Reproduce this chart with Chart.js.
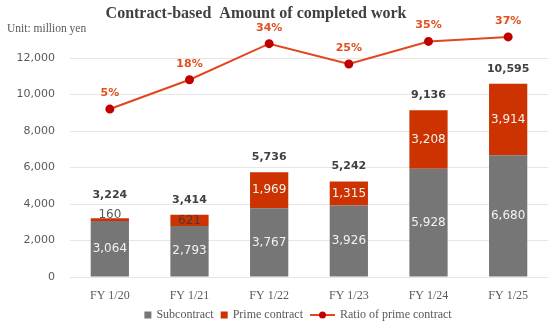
<!DOCTYPE html>
<html>
<head>
<meta charset="utf-8">
<script src="https://cdn.jsdelivr.net/npm/chart.js@4"></script>
<style>
  html, body { margin: 0; padding: 0; background: #fff; }
  #wrap { width: 559px; height: 332px; position: relative; }
</style>
</head>
<body>
<div id="wrap"><canvas id="workChart"></canvas></div>
<script>
// ---- data (million yen) ----
const years       = ['FY 1/20', 'FY 1/21', 'FY 1/22', 'FY 1/23', 'FY 1/24', 'FY 1/25'];
const subcontract = [3064, 2793, 3767, 3926, 5928, 6680];
const prime       = [160, 621, 1969, 1315, 3208, 3914];
const totals      = [3224, 3414, 5736, 5242, 9136, 10595];
const primeRatio  = [5, 18, 34, 25, 35, 37];   // %
const yTicks      = [0, 2000, 4000, 6000, 8000, 10000, 12000];

const GRAY  = '#767676';
const RED   = '#cc3300';
const LINE  = '#e2461c';
const DOT   = '#c00000';
const SERIF = '"Liberation Serif", "Times New Roman", serif';
const SANS  = '"DejaVu Sans", Verdana, sans-serif';

const fmt = v => v.toLocaleString('en-US');

// heading + unit note
const headingPlugin = {
    id: 'heading',
    afterDraw(chart) {
        const ctx = chart.ctx;
        ctx.save();
        ctx.textBaseline = 'middle';
        ctx.fillStyle = '#404040';
        ctx.font = 'bold 16px ' + SERIF;
        ctx.textAlign = 'center';
        ctx.fillText('Contract-based  Amount of completed work', 256, 14);
        ctx.fillStyle = '#595959';
        ctx.font = '11.5px ' + SERIF;
        ctx.textAlign = 'left';
        ctx.fillText('Unit: million yen', 7, 29);
        ctx.restore();
    }
};

// value labels on bars and ratio points
const valueLabels = {
    id: 'valueLabels',
    afterDatasetsDraw(chart) {
        const ctx = chart.ctx;
        const subMeta   = chart.getDatasetMeta(0);
        const primeMeta = chart.getDatasetMeta(1);
        const lineMeta  = chart.getDatasetMeta(2);
        ctx.save();
        ctx.textAlign = 'center';
        ctx.textBaseline = 'middle';

        subMeta.data.forEach((bar, i) => {
            const p = primeMeta.data[i];
            ctx.font = '12px ' + SANS;
            ctx.fillStyle = '#f2f2f2';
            ctx.fillText(fmt(subcontract[i]), bar.x, (bar.y + bar.base) / 2);

            // thin prime blocks get a dark label sitting on the edge
            const h = p.base - p.y;
            let topY = p.y;
            if (h < 8) {
                ctx.fillStyle = '#595959';
                ctx.fillText(fmt(prime[i]), p.x, p.y - 3);
                topY = p.y - 8;
            } else {
                ctx.fillStyle = h < 14 ? '#4a3a36' : '#f2f2f2';
                ctx.fillText(fmt(prime[i]), p.x, (p.y + p.base) / 2);
            }

            ctx.font = 'bold 11px ' + SANS;
            ctx.fillStyle = '#404040';
            ctx.fillText(fmt(totals[i]), p.x, topY - 15);
        });

        ctx.font = 'bold 11px ' + SANS;
        ctx.fillStyle = '#e0501e';
        lineMeta.data.forEach((pt, i) => {
            ctx.fillText(primeRatio[i] + '%', pt.x, pt.y - 16);
        });
        ctx.restore();
    }
};

// legend row under the axis
const legendRow = {
    id: 'legendRow',
    afterDraw(chart) {
        const ctx = chart.ctx;
        const y = 315;
        const items = [
            { text: 'Subcontract', kind: 'box', color: GRAY },
            { text: 'Prime contract', kind: 'box', color: RED },
            { text: 'Ratio of prime contract', kind: 'line', color: LINE }
        ];
        ctx.save();
        ctx.font = '12px ' + SERIF;
        ctx.textBaseline = 'middle';
        ctx.textAlign = 'left';
        const markW = it => it.kind === 'box' ? 7 : 25;
        let total = 0;
        items.forEach((it, i) => {
            total += markW(it) + 5 + ctx.measureText(it.text).width + (i < items.length - 1 ? 7 : 0);
        });
        let x = 298 - total / 2;
        items.forEach(it => {
            if (it.kind === 'box') {
                ctx.fillStyle = it.color;
                ctx.fillRect(x, y - 3.5, 7, 7);
            } else {
                ctx.strokeStyle = it.color;
                ctx.lineWidth = 2;
                ctx.beginPath();
                ctx.moveTo(x, y);
                ctx.lineTo(x + 25, y);
                ctx.stroke();
                ctx.fillStyle = DOT;
                ctx.beginPath();
                ctx.arc(x + 12.5, y, 3.5, 0, Math.PI * 2);
                ctx.fill();
            }
            x += markW(it) + 5;
            ctx.fillStyle = '#595959';
            ctx.fillText(it.text, x, y);
            x += ctx.measureText(it.text).width + 7;
        });
        ctx.restore();
    }
};

new Chart(document.getElementById('workChart'), {
    type: 'bar',
    data: {
        labels: years,
        datasets: [
            { label: 'Subcontract', data: subcontract, backgroundColor: GRAY, stack: 'amt', order: 1,
              barPercentage: 0.48, categoryPercentage: 1 },
            { label: 'Prime contract', data: prime, backgroundColor: RED, stack: 'amt', order: 1,
              barPercentage: 0.48, categoryPercentage: 1 },
            { type: 'line', label: 'Ratio of prime contract', data: primeRatio, yAxisID: 'y1', order: 0,
              borderColor: LINE, borderWidth: 2, pointRadius: 3.5, pointHoverRadius: 3.5,
              pointBackgroundColor: DOT, pointBorderColor: DOT, tension: 0, clip: false }
        ]
    },
    options: {
        responsive: true,
        maintainAspectRatio: false,
        animation: false,
        // axis runs to 14,000 so the ratio line has room above the last gridline
        layout: { padding: { top: 20.33, right: 11, bottom: 25, left: 0 } },
        plugins: { legend: { display: false }, tooltip: { enabled: false } },
        scales: {
            x: {
                stacked: true,
                grid: { display: false, drawTicks: false },
                border: { display: false },
                ticks: { color: '#595959', font: { family: SERIF, size: 12 }, padding: 12 },
                afterFit: s => { s.height = 30; }
            },
            y: {
                stacked: true,
                min: 0,
                max: 14000,
                afterBuildTicks: s => { s.ticks = yTicks.map(v => ({ value: v })); },
                grid: { color: '#e6e6e6', drawTicks: false },
                border: { display: false },
                ticks: { color: '#595959', font: { family: SANS, size: 11 }, padding: 15,
                         callback: v => fmt(v) },
                afterFit: s => { s.width = 70; }
            },
            y1: {
                display: false,
                min: -69.5,
                max: 43.8
            }
        }
    },
    plugins: [headingPlugin, valueLabels, legendRow]
});
</script>
</body>
</html>
